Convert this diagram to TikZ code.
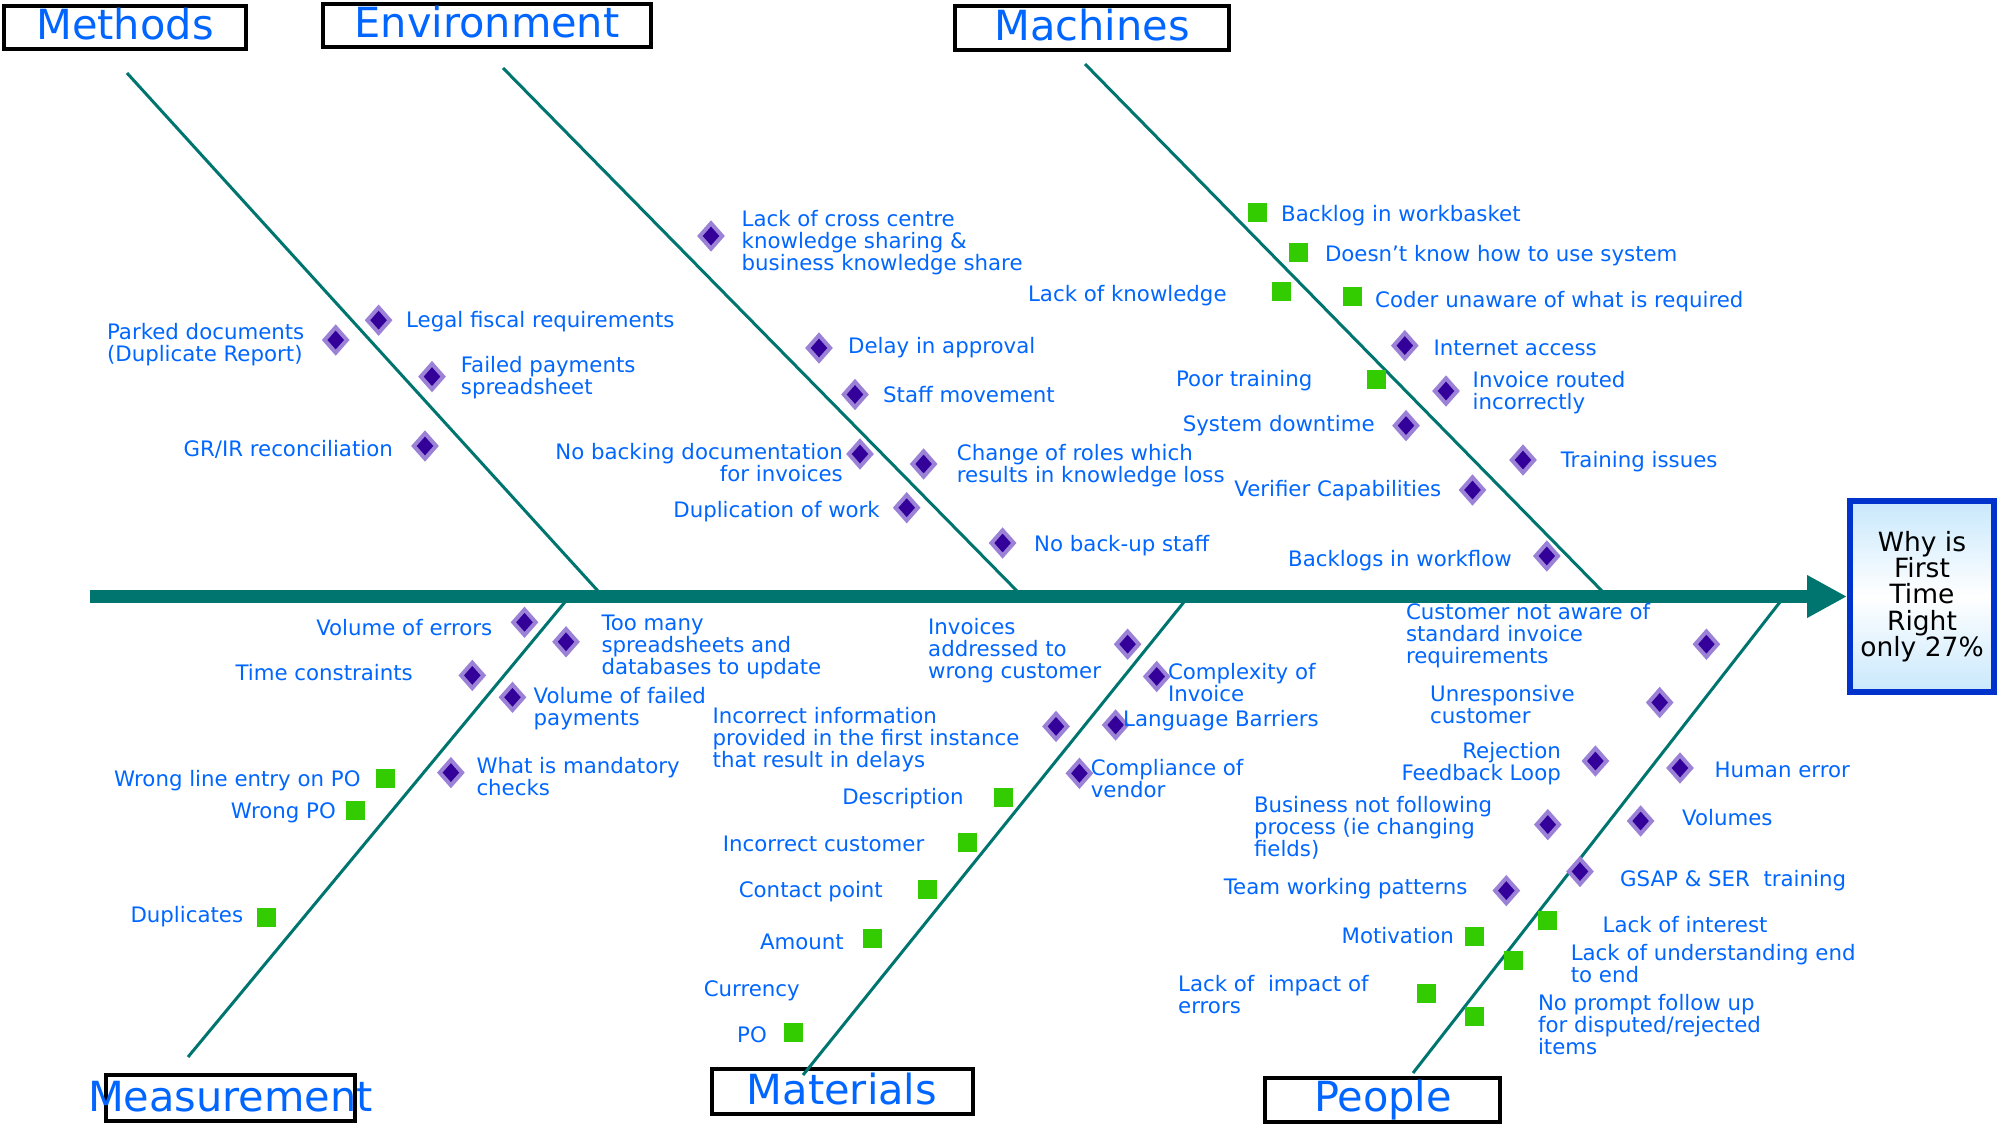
\documentclass[tikz,border=0pt]{standalone}
\usepackage{fontspec}
\setmainfont{DejaVu Sans}
\usetikzlibrary{shapes.geometric,arrows.meta}
\definecolor{bone}{RGB}{0,117,112}
\definecolor{txtb}{RGB}{0,102,255}
\definecolor{dk}{RGB}{51,0,153}
\definecolor{lav}{RGB}{155,130,215}
\definecolor{grn}{RGB}{51,204,0}
\definecolor{hbb}{RGB}{0,51,204}
\definecolor{hbf}{RGB}{200,232,252}
\tikzset{
  bonel/.style={draw=bone,line width=3pt},
  spinel/.style={draw=bone,line width=13pt},
  dmd/.style={shape=diamond,minimum width=24pt,minimum height=27pt,inner sep=0pt,fill=dk,draw=lav,line width=4pt},
  gsq/.style={shape=rectangle,minimum size=19pt,inner sep=0pt,fill=grn,draw=none},
  lbl/.style={text=txtb,font=\fontsize{21.3}{22}\selectfont,inner sep=0pt,yshift=-2pt},
  lw/.style={lbl,anchor=west,align=left},
  le/.style={lbl,anchor=east,align=left},
  ler/.style={lbl,anchor=east,align=right},
  catbox/.style={draw=black,line width=4pt,fill=white,inner sep=0pt},
  cattxt/.style={text=txtb,font=\fontsize{41.5}{44}\selectfont,inner sep=0pt,anchor=base},
  headbox/.style={draw=hbb,line width=6pt,top color=hbf,bottom color=hbf,middle color=white,
    minimum width=144pt,minimum height=191pt,inner sep=0pt,align=center,text=black,
    font=\fontsize{26.5}{26.3}\selectfont}
}
\begin{document}
\begin{tikzpicture}[x=1pt,y=-1pt]
\useasboundingbox (0,0) rectangle (1997,1124);
% category boxes
\node[catbox,minimum width=242pt,minimum height=43pt] (bMet) at (125,27.2) {};
\node[catbox,minimum width=328pt,minimum height=43pt] (bEnv) at (487,25.5) {};
\node[catbox,minimum width=274pt,minimum height=44pt] (bMac) at (1092,28) {};
\node[catbox,minimum width=249pt,minimum height=46pt] (bMea) at (230.5,1098) {};
\node[catbox,minimum width=261pt,minimum height=45pt] (bMat) at (842.5,1091.5) {};
\node[catbox,minimum width=235pt,minimum height=44pt] (bPeo) at (1382.5,1100) {};
\node[cattxt] (tMet) at (125,39.3) {Methods};
\node[cattxt] (tEnv) at (487,37.5) {Environment};
\node[cattxt] (tMac) at (1092,41) {Machines};
\node[cattxt] (tMea) at (230.5,1111) {Measurement};
\node[cattxt] (tMat) at (842,1104) {Materials};
\node[cattxt] (tPeo) at (1383,1111) {People};
% head
\node[headbox] (head) at (1922,596.5) {Why is\\First\\Time\\Right\\only 27\%};
% bone coordinates
\coordinate (sp) at (90,596.5);
\coordinate (mt1) at (127,73);   \coordinate (mt2) at (598,591);
\coordinate (en1) at (503,68);   \coordinate (en2) at (1017,591);
\coordinate (ma1) at (1085,64);  \coordinate (ma2) at (1602,591);
\coordinate (me1) at (188,1057); \coordinate (me2) at (565,602);
\coordinate (mm1) at (803,1075); \coordinate (mm2) at (1184,602);
\coordinate (pe1) at (1413,1073);\coordinate (pe2) at (1780,602);
\draw[spinel,-{Triangle[length=40pt,width=40pt]}] (sp) -- (head.west);
\draw[bonel] (mt1) -- (mt2);
\draw[bonel] (en1) -- (en2);
\draw[bonel] (ma1) -- (ma2);
\draw[bonel] (me1) -- (me2);
\draw[bonel] (mm1) -- (mm2);
\draw[bonel] (pe1) -- (pe2);
% Methods
\node[dmd] (d1) at (378.6,320.2) {};
\node[lw] (l1) at (406,319.5) {Legal fiscal requirements};
\node[dmd] (d2) at (335.7,340) {};
\node[le] (l2) at (304.5,343) {Parked documents\\(Duplicate Report)};
\node[dmd] (d3) at (432,376.6) {};
\node[lw] (l3) at (460.7,375.5) {Failed payments\\spreadsheet};
\node[dmd] (d4) at (425,446) {};
\node[le] (l4) at (393,447) {GR/IR reconciliation};
% Environment
\node[dmd] (d5) at (711,236) {};
\node[lw] (l5) at (741.5,241) {Lack of cross centre\\knowledge sharing \&\\business knowledge share};
\node[dmd] (d6) at (819,348) {};
\node[lw] (l6) at (848,346) {Delay in approval};
\node[dmd] (d7) at (855,394.5) {};
\node[lw] (l7) at (883,393) {Staff movement};
\node[dmd] (d8) at (860,454) {};
\node[ler] (l8) at (843,460.5) {No backing documentation\\for invoices};
\node[dmd] (d9) at (923.6,464) {};
\node[lw] (l9) at (956.7,464) {Change of roles which\\results in knowledge loss};
\node[dmd] (d10) at (906.7,507.7) {};
\node[le] (l10) at (880,509.5) {Duplication of work};
\node[dmd] (d11) at (1002.6,543) {};
\node[lw] (l11) at (1034,544) {No back-up staff};
% Machines
\node[gsq] (g12) at (1257,212.5) {};
\node[lw] (l12) at (1281,214) {Backlog in workbasket};
\node[gsq] (g13) at (1298.6,252.5) {};
\node[lw] (l13) at (1324.8,253.5) {Doesn’t know how to use system};
\node[gsq] (g14) at (1281.4,291) {};
\node[le] (l14) at (1226.8,293.5) {Lack of knowledge};
\node[gsq] (g15) at (1352.4,296.4) {};
\node[lw] (l15) at (1375,300) {Coder unaware of what is required};
\node[dmd] (d16) at (1404.8,345.6) {};
\node[lw] (l16) at (1433.4,346) {Internet access};
\node[gsq] (g17) at (1376,379) {};
\node[le] (l17) at (1312.5,379) {Poor training};
\node[dmd] (d18) at (1446,391) {};
\node[lw] (l18) at (1472.5,391) {Invoice routed\\incorrectly};
\node[dmd] (d19) at (1406,425.6) {};
\node[le] (l19) at (1374.8,424) {System downtime};
\node[dmd] (d20) at (1523,460) {};
\node[lw] (l20) at (1560.6,460) {Training issues};
\node[dmd] (d21) at (1472.5,490) {};
\node[le] (l21) at (1441.5,488.5) {Verifier Capabilities};
\node[dmd] (d22) at (1546.8,556) {};
\node[le] (l22) at (1512,558.8) {Backlogs in workflow};
% Measurement
\node[dmd] (d23) at (524.5,622.3) {};
\node[le] (l23) at (492.4,625.8) {Volume of errors};
\node[dmd] (d24) at (566,641.8) {};
\node[lw] (l24) at (601.3,644.6) {Too many\\spreadsheets and\\databases to update};
\node[dmd] (d25) at (472.3,675.4) {};
\node[le] (l25) at (413,671) {Time constraints};
\node[dmd] (d26) at (512.5,697.3) {};
\node[lw] (l26) at (533.5,707) {Volume of failed\\payments};
\node[dmd] (d27) at (450.9,772.6) {};
\node[lw] (l27) at (476.3,775) {What is mandatory\\checks};
\node[gsq] (g28) at (385.2,778.8) {};
\node[le] (l28) at (360.7,778.8) {Wrong line entry on PO};
\node[gsq] (g29) at (355.8,810.8) {};
\node[le] (l29) at (336,810.8) {Wrong PO};
\node[gsq] (g30) at (266.5,917.6) {};
\node[le] (l30) at (243.3,915) {Duplicates};
% Materials
\node[dmd] (d31) at (1127.6,644.2) {};
\node[lw] (l31) at (928,648.4) {Invoices\\addressed to\\wrong customer};
\node[dmd] (d32) at (1156.7,676.5) {};
\node[lw] (l32) at (1167.8,680.6) {Complexity of\\Invoice};
\node[dmd] (d33) at (1056,726.4) {};
\node[lw] (l33) at (712.5,737.6) {Incorrect information\\provided in the first instance\\that result in delays};
\node[dmd] (d34) at (1115.6,725) {};
\node[lw] (l34) at (1123,718.8) {Language Barriers};
\node[dmd] (d35) at (1079.4,773.3) {};
\node[lw] (l35) at (1090.6,777) {Compliance of\\vendor};
\node[gsq] (g36) at (1003.5,797) {};
\node[le] (l36) at (963.8,796.9) {Description};
\node[gsq] (g37) at (967.4,842) {};
\node[le] (l37) at (924.5,842) {Incorrect customer};
\node[gsq] (g38) at (927.2,889.9) {};
\node[le] (l38) at (883,889.5) {Contact point};
\node[gsq] (g39) at (872.3,938) {};
\node[le] (l39) at (844,940) {Amount};
\node[lw] (l40) at (703.6,988.8) {Currency};
\node[gsq] (g41) at (793.7,1032) {};
\node[le] (l41) at (767,1032.8) {PO};
% People
\node[dmd] (d42) at (1706.4,644.2) {};
\node[lw] (l42) at (1405.8,633.7) {Customer not aware of\\standard invoice\\requirements};
\node[dmd] (d43) at (1659.7,702.5) {};
\node[lw] (l43) at (1430,703) {Unresponsive\\customer};
\node[dmd] (d44) at (1595.4,761) {};
\node[ler] (l44) at (1561,761.6) {Rejection\\Feedback Loop};
\node[dmd] (d45) at (1680,768) {};
\node[lw] (l45) at (1714.5,768) {Human error};
\node[dmd] (d46) at (1547.8,824.6) {};
\node[lw] (l46) at (1253.8,826) {Business not following\\process (ie changing\\fields)};
\node[dmd] (d47) at (1640.6,821) {};
\node[lw] (l47) at (1682,816) {Volumes};
\node[dmd] (d48) at (1580,871.5) {};
\node[lw] (l48) at (1620,879) {GSAP \& SER\ \ training};
\node[dmd] (d49) at (1506.3,890.6) {};
\node[le] (l49) at (1467.7,887) {Team working patterns};
\node[gsq] (g50) at (1547.8,920.8) {};
\node[lw] (l50) at (1602.5,922.8) {Lack of interest};
\node[gsq] (g51) at (1474,936.4) {};
\node[le] (l51) at (1454,934) {Motivation};
\node[gsq] (g52) at (1513.5,960.6) {};
\node[lw] (l52) at (1570.6,962) {Lack of understanding end\\to end};
\node[gsq] (g53) at (1426,993.6) {};
\node[lw] (l53) at (1178,992.6) {Lack of\ \ impact of\\errors};
\node[gsq] (g54) at (1474,1016.5) {};
\node[lw] (l54) at (1537.8,1023) {No prompt follow up\\for disputed/rejected\\items};
\end{tikzpicture}
\end{document}
